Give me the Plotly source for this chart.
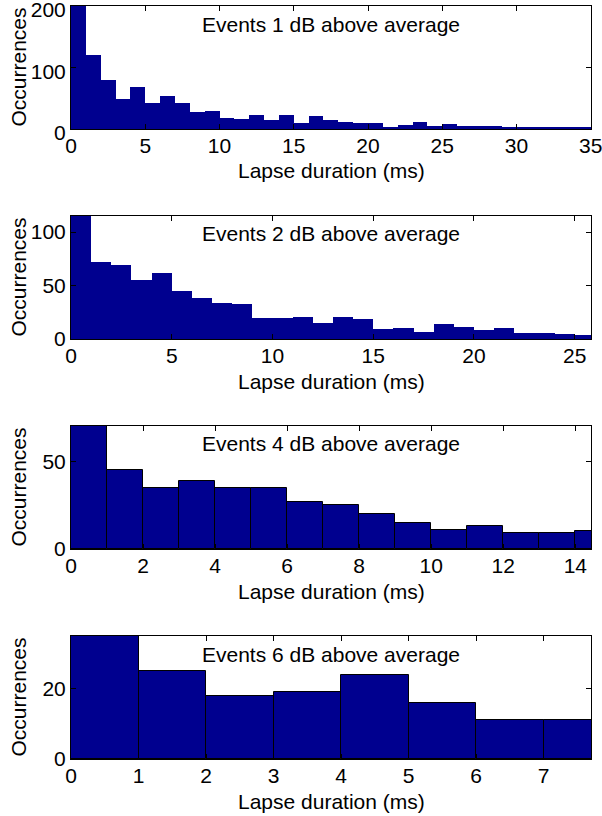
import plotly.graph_objects as go

# ---- data ----
titles = ["Events 1 dB above average", "Events 2 dB above average",
          "Events 4 dB above average", "Events 6 dB above average"]

counts_1db = [200, 121, 79, 49, 69, 42, 53, 42, 27, 30, 18, 16, 22, 15, 22, 10, 21, 14,
              11, 10, 10, 4, 7, 11, 5, 8, 5, 5, 5, 4, 4, 2, 4, 3, 3]
counts_2db = [115, 72, 69, 55, 62, 45, 38, 34, 33, 20, 20, 21, 15, 21, 19, 9, 10, 7,
              14, 11, 8, 10, 6, 6, 5, 4]
counts_4db = [70, 45, 35, 39, 35, 35, 27, 25, 20, 15, 11, 13, 9, 9, 10]
counts_6db = [35, 25, 18, 19, 24, 16, 11, 11]

x_limits = [35, 25.8, 14.43, 7.7]
y_limits = [200, 115, 70, 35]
x_tick_steps = [5, 5, 2, 1]
y_tick_vals = [[0, 100, 200], [0, 50, 100], [0, 50], [0, 20]]

series = [counts_1db, counts_2db, counts_4db, counts_6db]
edge_widths = [0, 0, 1, 1]
y_label_shift = [4, 0, 0, 0]

BAR = "rgb(0,0,143)"
FONT = "Liberation Sans, Arial, Helvetica, sans-serif"
FS = 21
W, H = 602, 816
ML, MR, MT, MB = 71, 11, 6, 57
plot_h = H - MT - MB
tops = [6, 216, 426, 636]
panel_h = 123

fig = go.Figure()
annotations = []
for i, counts in enumerate(series):
    ax = "" if i == 0 else str(i + 1)
    centers = [k + 0.5 for k in range(len(counts))]
    fig.add_trace(go.Bar(
        x=centers, y=counts, width=1.0,
        marker=dict(color=BAR, line=dict(color="black", width=edge_widths[i])),
        xaxis="x" + ax, yaxis="y" + ax, showlegend=False, hoverinfo="x+y"))
    top = tops[i]
    bot = top + panel_h
    dom = [1 - (bot - MT) / plot_h, 1 - (top - MT) / plot_h]
    dom = [max(0, dom[0]), min(1, dom[1])]
    step = x_tick_steps[i]
    xt = [v * step for v in range(int(x_limits[i] // step + 1e-9) + 1)]
    common = dict(showline=True, linecolor="black", linewidth=1, mirror="ticks",
                  ticks="inside", ticklen=5, tickcolor="black", showgrid=False,
                  zeroline=False, automargin=False, ticklabeloverflow="allow",
                  tickfont=dict(family=FONT, size=FS, color="black"))
    fig.update_layout(**{
        "xaxis" + ax: dict(domain=[0, 1], range=[0, x_limits[i] * 1.0004], tickvals=xt,
                           anchor="y" + ax, ticklabelstandoff=-2, **common),
        "yaxis" + ax: dict(domain=dom, range=[0, y_limits[i] * 1.0004],
                           tickvals=y_tick_vals[i], anchor="x" + ax,
                           ticklabelstandoff=0, ticklabelshift=y_label_shift[i], **common),
    })
    xr = "x" + ax + " domain"
    yr = "y" + ax + " domain"
    annotations.append(dict(text=titles[i], xref=xr, yref=yr, x=0.5, y=1, yshift=-18,
                            xanchor="center", yanchor="middle", showarrow=False,
                            font=dict(family=FONT, size=FS, color="black")))
    annotations.append(dict(text="Lapse duration (ms)", xref=xr, yref=yr, x=0.5, y=0,
                            yshift=-42, xanchor="center", yanchor="middle", showarrow=False,
                            font=dict(family=FONT, size=FS, color="black")))
    annotations.append(dict(text="Occurrences", xref=xr, yref=yr, x=0, y=0.5,
                            xshift=-53, textangle=-90, xanchor="center", yanchor="middle",
                            showarrow=False, font=dict(family=FONT, size=FS, color="black")))

fig.update_layout(width=W, height=H, margin=dict(l=ML, r=MR, t=MT, b=MB, autoexpand=False),
                  paper_bgcolor="white", plot_bgcolor="white", bargap=0,
                  annotations=annotations, font=dict(family=FONT, size=FS, color="black"))
fig.write_html("out.html", config={"displayModeBar": False},
               post_script="document.body.style.margin='0';document.body.style.padding='0';")
